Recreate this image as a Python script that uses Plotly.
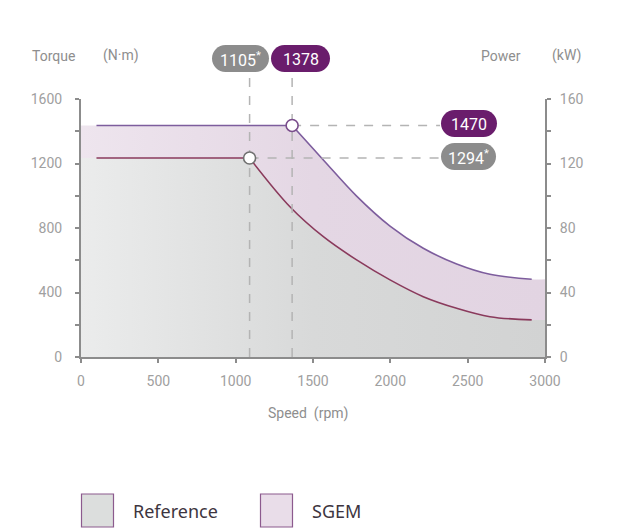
import plotly.graph_objects as go

# --- data ---
SPEED_MAX = 3000
ref_speed = [100, 1090, 1351, 1567, 1782, 1998, 2213, 2429, 2644, 2914]
ref_torque = [1234, 1234, 932, 746, 602, 478, 374, 302, 250, 230]
sgem_speed = [100, 1365, 1567, 1782, 1998, 2213, 2429, 2644, 2914]
sgem_torque = [1436, 1436, 1222, 998, 812, 674, 577, 513, 482]

ref_corner_label = "1105<sup>*</sup>"
sgem_corner_label = "1378"
ref_power_label = "1294<sup>*</sup>"
sgem_power_label = "1470"

GRAY_LINE = "#8a3a5c"
PURPLE_LINE = "#7d5d9d"
GRAY_PILL = "#8c8c8c"
PURPLE_PILL = "#6a1d6c"
AXIS = "#8c8c8c"
TXT = "#8e8e8e"

# --- page geometry (screen pixels; page body has an 8px margin) ---
OFF = 8
W, H = 622 - OFF, 528 - OFF
L_SCR, R_SCR, T_SCR, B_SCR = 81, 545, 99, 357   # plot area on screen
ML, MT = L_SCR - OFF, T_SCR - OFF
MR, MB = W - (R_SCR - OFF), H - (B_SCR - OFF)
PW, PH = R_SCR - L_SCR, B_SCR - T_SCR


def px(x):
    return (x - L_SCR) / PW


def py(y):
    return (B_SCR - y) / PH


def pill(x0, x1, y0, y1):
    r = (y1 - y0) / 2
    k = 0.5523 * r
    pts = [
        ("M", [(x0 + r, y0)]),
        ("L", [(x1 - r, y0)]),
        ("C", [(x1 - r + k, y0), (x1, y0 + r - k), (x1, y0 + r)]),
        ("C", [(x1, y0 + r + k), (x1 - r + k, y1), (x1 - r, y1)]),
        ("L", [(x0 + r, y1)]),
        ("C", [(x0 + r - k, y1), (x0, y0 + r + k), (x0, y0 + r)]),
        ("C", [(x0, y0 + r - k), (x0 + r - k, y0), (x0 + r, y0)]),
    ]
    s = ""
    for cmd, ps in pts:
        s += cmd + " " + " ".join(f"{px(a):.5f},{py(b):.5f}" for a, b in ps) + " "
    return s + "Z"


def label(x, y, text, size=14, color=TXT, family="Roboto", xanchor="center"):
    fig.add_annotation(x=px(x), y=py(y), xref="paper", yref="paper", text=text,
                       showarrow=False, xanchor=xanchor, yanchor="middle",
                       font=dict(family=family, size=size, color=color))


fig = go.Figure()

gray_grad = dict(type="horizontal", start=0, stop=SPEED_MAX,
                 colorscale=[[0, "#ebecec"], [0.5, "#d8d9d9"], [1, "#d2d3d3"]])
pink_grad = dict(type="horizontal", start=0, stop=SPEED_MAX,
                 colorscale=[[0, "#eee5ee"], [0.5, "#e4d7e4"], [1, "#e2d4e2"]])


def add_fill(speed, torque, grad):
    # flat part (linear) and falling part (spline), both filled to zero
    fig.add_trace(go.Scatter(x=[0, speed[1] + 4], y=[torque[0], torque[1]], mode="lines",
                             line=dict(width=0), fill="tozeroy", fillgradient=grad,
                             hoverinfo="skip", showlegend=False))
    fig.add_trace(go.Scatter(x=speed[1:] + [SPEED_MAX], y=torque[1:] + [torque[-1]],
                             mode="lines", line=dict(width=0, shape="spline"),
                             fill="tozeroy", fillgradient=grad,
                             hoverinfo="skip", showlegend=False))


def add_line(speed, torque, color):
    fig.add_trace(go.Scatter(x=speed[:2], y=torque[:2], mode="lines",
                             line=dict(color=color, width=1.6),
                             hoverinfo="skip", showlegend=False))
    fig.add_trace(go.Scatter(x=speed[1:], y=torque[1:], mode="lines",
                             line=dict(color=color, width=1.6, shape="spline"),
                             hoverinfo="skip", showlegend=False))


add_fill(sgem_speed, sgem_torque, pink_grad)
add_fill(ref_speed, ref_torque, gray_grad)
add_line(sgem_speed, sgem_torque, PURPLE_LINE)
add_line(ref_speed, ref_torque, GRAY_LINE)

# keep the right axis drawn
fig.add_trace(go.Scatter(x=[0], y=[0], yaxis="y2", mode="markers", marker=dict(opacity=0),
                         hoverinfo="skip", showlegend=False))

# dashed guides, then the corner circles on top of them
x_label_left = (440 - L_SCR) / PW * SPEED_MAX
corners = [(ref_speed[1], ref_torque[1], "#707070"), (sgem_speed[1], sgem_torque[1], "#7a4d8c")]
for sp, tq, _ in corners:
    fig.add_shape(type="line", xref="x", yref="paper", x0=sp, x1=sp, y0=0, y1=py(72),
                  line=dict(color="#b4b4b4", width=1.5, dash="dash"), layer="above")
    fig.add_shape(type="line", xref="x", yref="y", x0=sp, x1=x_label_left, y0=tq, y1=tq,
                  line=dict(color="#b4b4b4", width=1.5, dash="dash"), layer="above")
for sp, tq, col in corners:
    fig.add_shape(type="circle", xref="x", yref="y", xsizemode="pixel", ysizemode="pixel",
                  xanchor=sp, yanchor=tq, x0=-6, x1=6, y0=-6, y1=6,
                  fillcolor="white", line=dict(color=col, width=1.6), layer="above")

# pills
pills = [
    (212, 269, 45, 72, GRAY_PILL, ref_corner_label),
    (271, 330, 45, 72, PURPLE_PILL, sgem_corner_label),
    (441, 497, 110, 137, PURPLE_PILL, sgem_power_label),
    (441, 496, 143, 170, GRAY_PILL, ref_power_label),
]
for x0, x1, y0, y1, col, txt in pills:
    fig.add_shape(type="path", xref="paper", yref="paper", path=pill(x0, x1, y0, y1),
                  fillcolor=col, line=dict(width=0), layer="above")
    label((x0 + x1) / 2, (y0 + y1) / 2 + 1, txt, size=16, color="white")

# axis titles
label(53, 56, "Torque")
label(121, 56, "(N·m)")
label(501, 56, "Power")
label(566, 56, "(kW)")
label(308, 413, "Speed  (rpm)")

# legend
for x0, fill, name in [(81.5, "#dcdedd", "Reference"), (260.5, "#e9dde9", "SGEM")]:
    fig.add_shape(type="rect", xref="paper", yref="paper", x0=px(x0), x1=px(x0 + 32),
                  y0=py(494), y1=py(527), fillcolor=fill, line=dict(color="#8c5a8e", width=1.2))
    label(x0 + 49, 510.5, name, size=18, color="#3d3540", family="Noto Sans", xanchor="left")

axis_common = dict(showline=True, linecolor=AXIS, linewidth=2, ticks="outside", ticklen=4,
                   tickwidth=2, tickcolor=AXIS, showgrid=False, zeroline=False,
                   tickfont=dict(family="Roboto", size=14, color="#a0a0a0"))

fig.update_layout(
    width=W, height=H,
    margin=dict(l=ML, r=MR, t=MT, b=MB),
    plot_bgcolor="white", paper_bgcolor="white",
    showlegend=False,
    xaxis=dict(range=[0, SPEED_MAX], dtick=500, ticklabelstandoff=6, **axis_common),
    yaxis=dict(range=[0, 1600], dtick=400, ticklabelstandoff=10,
               minor=dict(dtick=200, ticks="outside", ticklen=4, tickcolor=AXIS, tickwidth=2),
               **axis_common),
    yaxis2=dict(range=[0, 160], dtick=40, overlaying="y", side="right", ticklabelstandoff=6,
                minor=dict(dtick=20, ticks="outside", ticklen=4, tickcolor=AXIS, tickwidth=2),
                **axis_common),
)

fig.write_html("out.html")
